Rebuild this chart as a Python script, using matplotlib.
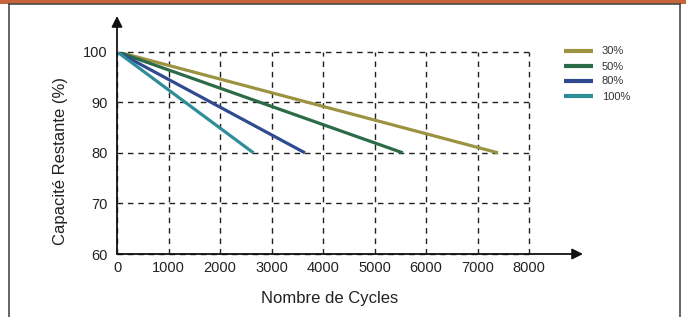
import matplotlib.pyplot as plt
from matplotlib.lines import Line2D
from matplotlib.patches import Rectangle

# Données
labels = ['30%', '50%', '80%', '100%']
cycles_fin = [7400, 5550, 3650, 2650]
capacite_debut = 100
capacite_fin = 80
couleurs = ['#9b9342', '#2b6b47', '#2f4a90', '#2f8d98']

x_ticks = [0, 1000, 2000, 3000, 4000, 5000, 6000, 7000, 8000]
y_ticks = [60, 70, 80, 90, 100]

plt.rcParams['font.family'] = ['Liberation Sans', 'DejaVu Sans']

W, H = 686, 317
fig = plt.figure(figsize=(W / 100, H / 100), dpi=100)

# cadre autour de la figure
fig.patches.append(Rectangle((0, 1 - 3.5 / H), 1, 3.5 / H, transform=fig.transFigure,
                             facecolor='#c8643a', edgecolor='none'))
for xs, ys in [([8.5 / W, 679.5 / W], [1 - 4 / H, 1 - 4 / H]),
               ([8.5 / W, 8.5 / W], [0, 1 - 4 / H]),
               ([679.5 / W, 679.5 / W], [0, 1 - 4 / H])]:
    fig.add_artist(Line2D(xs, ys, transform=fig.transFigure, color='#4a4a4a', lw=1.2))

left, right = 117 / W, 529 / W
bottom, top = 1 - 254 / H, 1 - 51.7 / H
ax = fig.add_axes([left, bottom, right - left, top - bottom])

for lab, xf, c in zip(labels, cycles_fin, couleurs):
    ax.plot([0, xf], [capacite_debut, capacite_fin], color=c, lw=2.3,
            solid_capstyle='butt', label=lab, zorder=3)

ax.set_xlim(0, 8000)
ax.set_ylim(60, 100)
ax.set_xticks(x_ticks)
ax.set_yticks(y_ticks)
ax.tick_params(length=0, labelsize=10.5, colors='#222222')
ax.tick_params(axis='y', pad=7)
ax.tick_params(axis='x', pad=5)
ax.grid(True, color='#222222', linestyle=(0, (4, 3.5)), lw=1.0)
for g in ax.get_xgridlines() + ax.get_ygridlines():
    g.set_clip_on(False)
for s in ax.spines.values():
    s.set_visible(False)

# axes avec flèches
arrow = dict(arrowstyle='-|>', color='#111111', lw=1.3, mutation_scale=16,
             shrinkA=0, shrinkB=0)
ax.annotate('', xy=(0, (254 - 16) / (254 - 51.7)), xytext=(0, 0),
            xycoords='axes fraction', textcoords='axes fraction',
            arrowprops=arrow, annotation_clip=False, zorder=5)
ax.annotate('', xy=((583 - 117) / (529 - 117), 0), xytext=(0, 0),
            xycoords='axes fraction', textcoords='axes fraction',
            arrowprops=arrow, annotation_clip=False, zorder=5)

fig.text(60 / W, 1 - 161 / H, 'Capacité Restante (%)', rotation=90,
         ha='center', va='center', fontsize=12, color='#222222')
fig.text(330 / W, 1 - 298 / H, 'Nombre de Cycles', ha='center', va='center',
         fontsize=12, color='#222222')

fig.legend(loc='upper left', bbox_to_anchor=(564 / W, 1 - 46.5 / H),
           frameon=False, fontsize=8, handlelength=2.6, handletextpad=0.8,
           labelspacing=0.45, borderpad=0, borderaxespad=0,
           labelcolor='#333333')
for h in fig.legends[0].get_lines():
    h.set_linewidth(3)

fig.savefig('out.png', dpi=100)
